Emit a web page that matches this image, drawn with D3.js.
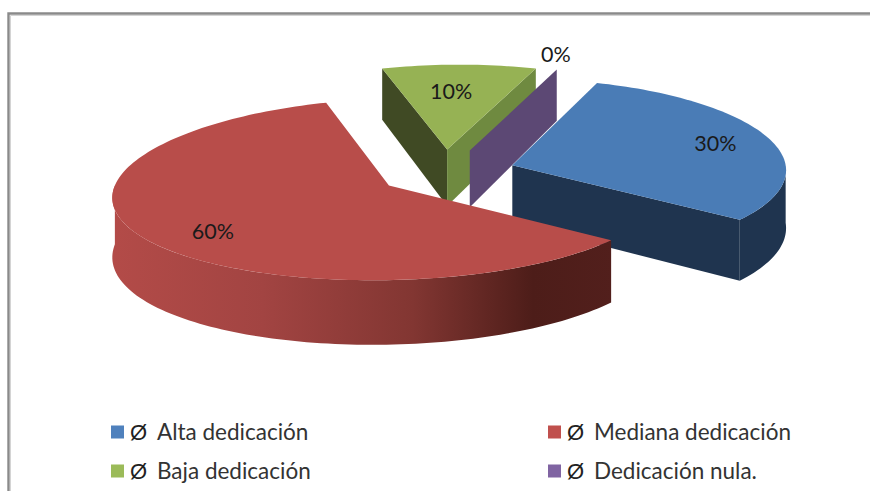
<!DOCTYPE html>
<html><head><meta charset="utf-8">
<script src="https://cdn.jsdelivr.net/npm/d3@7"></script>
<style>html,body{margin:0;padding:0;background:#fff}svg{display:block}text{font-family:Lato,"Open Sans",sans-serif}</style>
</head><body><div id="c"></div>
<script>
const categories = ["Alta dedicación","Mediana dedicación","Baja dedicación","Dedicación nula."];
const values = [30,60,10,0];
const bullet = "Ø";
const topColors = ["#4a7cb6","#b84d4a","#96b254","#5e4a78"];
const legendColors = ["#4f81bd","#c0504d","#9bbb59","#8064a2"];
const startWall = [null,null,"#404a24",null];
const endWall = ["#1f344f",null,"#6f8a40","#5c4874"];
const outerWall = ["#1f344f","red",null,null];
const explode = [0.24,0.25,0.25,0.25];
const nudge = [0,-2,-5,-3];
const radius = [1,0.985,1,1];
const labelRadius = [0.79,0.77,0.68,1.19];
const labelTurn = [0,-4,-1.5,-3.3];

const W=870,H=491;
const svg=d3.select("#c").append("svg").attr("width",W).attr("height",H);
const defs=svg.append("defs");

// frame
svg.append("path").attr("d",`M8.5 ${H}V13.5H${W}`).attr("fill","none").attr("stroke","#8a8a8a").attr("stroke-width",2.4);
svg.append("path").attr("d",`M10.5 ${H}V15.5H${W}`).attr("fill","none").attr("stroke","#d4d4d4").attr("stroke-width",1);

// projection of the tilted pie, with a light perspective
const R=275, RY=91, CX=449, CY=172, P=0.045, DEPTH=58, Q=0.1, VX=600, PX=0.08;
const sx=d3.scaleLinear().domain([0,1]).range([CX,CX+R]);
const sy=v=>CY+v*RY*(1+P*v);
const depth=v=>DEPTH*(1+Q*v);
const px=(u,v)=>VX+(sx(u)-VX)*(1+PX*v);
const project=(u,v)=>[px(u,v),sy(v)];
const projectLow=(u,v)=>[px(u,v),sy(v)+depth(v)];

const arcs=d3.pie().sort(null).value(d=>d).startAngle(18*Math.PI/180).endAngle(378*Math.PI/180)(values);
const line=d3.line();

const geo=arcs.map((a,i)=>{
  const mid=(a.startAngle+a.endAngle)/2;
  const ou=Math.sin(mid)*explode[i]+nudge[i]/R, ov=-Math.cos(mid)*explode[i];
  const at=(t,r=1)=>[ou+Math.sin(t)*r*radius[i], ov-Math.cos(t)*r*radius[i]];
  return {a,mid,ou,ov,at};
});

function sampled(g,t0,t1){
  const n=Math.max(2,Math.ceil(Math.abs(t1-t0)*40));
  return d3.range(n+1).map(k=>g.at(t0+(t1-t0)*k/n));
}
function drawRadialWall(g,t,color){
  const e=g.at(t);
  const pts=[project(g.ou,g.ov),project(...e),projectLow(...e),projectLow(g.ou,g.ov)];
  svg.append("path").attr("d",line(pts)+"Z").attr("fill",color);
}
function drawOuter(g,fill){
  const t0=Math.max(g.a.startAngle,Math.PI/2), t1=Math.min(g.a.endAngle,3*Math.PI/2);
  const s=sampled(g,t0,t1);
  const pts=s.map(p=>project(...p)).concat(s.slice().reverse().map(p=>projectLow(...p)));
  svg.append("path").attr("d",line(pts)+"Z").attr("fill",fill);
}
function drawTop(g,i){
  const s=sampled(g,g.a.startAngle,g.a.endAngle);
  const pts=[project(g.ou,g.ov)].concat(s.map(p=>project(...p)));
  svg.append("path").attr("d",line(pts)+"Z").attr("fill",topColors[i]);
}

const grad=defs.append("linearGradient").attr("id","redWall").attr("gradientUnits","userSpaceOnUse")
  .attr("x1",113).attr("x2",613).attr("y1",0).attr("y2",0);
[[0,"#b34b48"],[0.3,"#a24442"],[0.6,"#823632"],[0.84,"#4d1d19"],[1,"#521f1c"]]
  .forEach(d=>grad.append("stop").attr("offset",d[0]).attr("stop-color",d[1]));

[2,3,0,1].forEach(i=>{
  const g=geo[i];
  if(startWall[i]) drawRadialWall(g,g.a.startAngle,startWall[i]);
  if(endWall[i]) drawRadialWall(g,g.a.endAngle,endWall[i]);
  if(outerWall[i]) drawOuter(g,outerWall[i]==="red"?"url(#redWall)":outerWall[i]);
  if(g.a.endAngle>g.a.startAngle) drawTop(g,i);
});

// data labels
const total=d3.sum(values);
geo.forEach((g,i)=>{
  const [x,y]=project(...g.at(g.mid+labelTurn[i]*Math.PI/180,labelRadius[i]));
  svg.append("text").attr("x",x).attr("y",y).attr("text-anchor","middle").attr("dominant-baseline","central")
    .attr("font-size",21.5).attr("fill","#1a1a1a").text(Math.round(values[i]/total*100)+"%");
});

// legend
const colX=d3.scalePoint().domain([0,1]).range([111,548]);
const rowY=d3.scalePoint().domain([0,1]).range([432,471]);
categories.forEach((c,i)=>{
  const x=colX(i%2), y=rowY(Math.floor(i/2));
  svg.append("rect").attr("x",x).attr("y",y-6.5).attr("width",13).attr("height",13).attr("fill",legendColors[i]);
  svg.append("text").attr("x",x+19).attr("y",y+8).attr("font-size",22).style("font-family","'Liberation Sans'").attr("fill","#222").text(bullet);
  svg.append("text").attr("x",x+46).attr("y",y+8).attr("font-size",22.5).attr("fill","#333").text(c);
});
</script></body></html>
